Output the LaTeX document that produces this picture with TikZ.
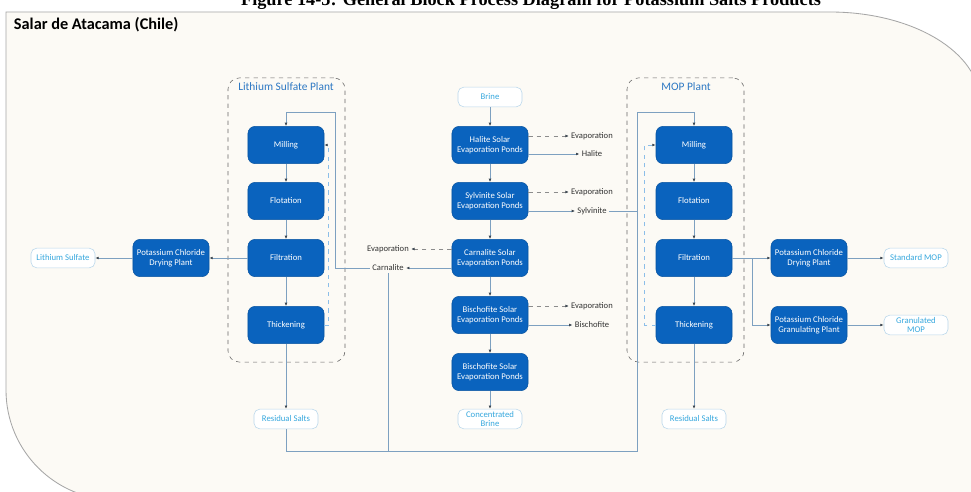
\documentclass[tikz,border=0pt]{standalone}
\usepackage{fontspec}
\setmainfont{Carlito}
\newfontfamily\capfont{Liberation Serif}
\usetikzlibrary{arrows.meta,positioning,calc}

\definecolor{pondblue}{RGB}{10,99,190}
\definecolor{prodtext}{RGB}{55,168,222}
\definecolor{prodline}{RGB}{185,215,235}
\definecolor{flowline}{RGB}{125,160,192}
\definecolor{recline}{RGB}{140,190,232}
\definecolor{tipgray}{RGB}{60,70,80}
\definecolor{paper}{RGB}{252,250,245}
\definecolor{plantlbl}{RGB}{45,120,195}

\begin{document}
\begin{tikzpicture}[x=0.025cm, y=-0.025cm,
    unit/.style={draw=pondblue!85!black, fill=pondblue, rounded corners=5pt, minimum width=1.9cm, minimum height=0.93cm, align=center, text=white, font=\fontsize{6.2}{7.4}\selectfont, inner sep=1pt},
    prod/.style={draw=prodline, fill=white, rounded corners=4pt, minimum width=1.6cm, minimum height=0.49cm, align=center, text=prodtext, font=\fontsize{6.2}{6.6}\selectfont, inner sep=1pt},
    plant/.style={draw=black!60, dashed, rounded corners=8pt, minimum width=2.925cm, minimum height=7.1cm},
    plantname/.style={text=plantlbl, font=\fontsize{8.1}{9}\selectfont},
    stream/.style={font=\fontsize{6.1}{7}\selectfont, text=black!80, inner sep=1.5pt},
    flow/.style={draw=flowline, line width=0.5pt},
    arr/.style={flow, -{Latex[length=2.4pt,width=2pt,color=tipgray]}},
    evap/.style={draw=black!45, dashed, line width=0.5pt, -{Latex[length=2.4pt,width=2pt,color=tipgray]}},
    rec/.style={draw=recline, dashed, line width=0.5pt, -{Latex[length=2.4pt,width=2pt,color=tipgray]}}
]
% page and salar outline
\clip (0,0) rectangle (971,492);
\fill[white] (0,0) rectangle (971,492);
\draw[black!35, fill=paper, line width=0.6pt] (6,12) -- (830,12) .. controls (912.8,12) and (980,52.3) .. (980,102)
    -- (980,500) -- (116,500) .. controls (55.2,500) and (6,450.8) .. (6,390) -- cycle;
\node[anchor=base, font=\capfont\bfseries\fontsize{13}{15}\selectfont] (fig) at (531,5.5) {Figure 14-5: General Block Process Diagram for Potassium Salts Products};
\node[anchor=base west, font=\bfseries\fontsize{11.6}{13}\selectfont] (salar) at (9,29.5) {Salar de Atacama (Chile)};

% lithium sulfate plant
\node[plant] (lsp) at (286.5,220) {};
\node[plantname] (lspname) at (286,87) {Lithium Sulfate Plant};
\node[unit] (lmill) at (286,145) {Milling};
\node[unit] (lflot) at (286,201) {Flotation};
\node[unit] (lfilt) at (286,258) {Filtration};
\node[unit] (lthick) at (286,325) {Thickening};
\node[unit] (ldry) at (171,258) {Potassium Chloride\\Drying Plant};
\node[prod] (lis) at (63,258) {Lithium Sulfate};
\node[prod] (lres) at (286,419) {Residual Salts};

% evaporation ponds
\node[prod] (brine) at (490,97) {Brine};
\node[unit] (halite) at (490,145) {Halite Solar\\Evaporation Ponds};
\node[unit] (sylvp) at (490,201) {Sylvinite Solar\\Evaporation Ponds};
\node[unit] (carnp) at (490,258) {Carnalite Solar\\Evaporation Ponds};
\node[unit] (bisch) at (490,315) {Bischofite Solar\\Evaporation Ponds};
\node[unit] (bischb) at (490,372) {Bischofite Solar\\Evaporation Ponds};
\node[prod] (conc) at (490,419) {Concentrated\\Brine};

\node[stream] (hevap) at (592,136) {Evaporation};
\node[stream] (hal) at (592,154) {Halite};
\node[stream] (sevap) at (592,192) {Evaporation};
\node[stream] (sylv) at (592,211) {Sylvinite};
\node[stream] (cevap) at (388,249) {Evaporation};
\node[stream] (carn) at (388,268) {Carnalite};
\node[stream] (bevap) at (592,306) {Evaporation};
\node[stream] (bis) at (592,325) {Bischofite};

% MOP plant
\node[plant] (mop) at (685.5,220) {};
\node[plantname] (mopname) at (686,87) {MOP Plant};
\node[unit] (mmill) at (694,145) {Milling};
\node[unit] (mflot) at (694,201) {Flotation};
\node[unit] (mfilt) at (694,258) {Filtration};
\node[unit] (mthick) at (694,325) {Thickening};
\node[unit] (mdry) at (809,258) {Potassium Chloride\\Drying Plant};
\node[unit] (mgran) at (809,325) {Potassium Chloride\\Granulating Plant};
\node[prod] (stdmop) at (916,258) {Standard MOP};
\node[prod] (granmop) at (916,325) {Granulated\\MOP};
\node[prod] (mres) at (694,419) {Residual Salts};

\coordinate (ltop) at (286,112);
\coordinate (lret) at (335,268);
\coordinate (bl) at (286,451);
\coordinate (br) at (637,451);
\coordinate (mtop) at (694,112);
\coordinate (msplit) at (752,258);

% pond train
\draw[arr] (brine) -- (halite);
\draw[arr] (halite) -- (sylvp);
\draw[arr] (sylvp) -- (carnp);
\draw[arr] (carnp) -- (bisch);
\draw[arr] (bisch) -- (bischb);
\draw[arr] (bischb) -- (conc);
\draw[evap] (hevap.west -| halite.east) -- (hevap);
\draw[arr] (hal.west -| halite.east) -- (hal);
\draw[evap] (sevap.west -| sylvp.east) -- (sevap);
\draw[arr] (sylv.west -| sylvp.east) -- (sylv);
\draw[evap] (cevap.east -| carnp.west) -- (cevap);
\draw[arr] (carn.east -| carnp.west) -- (carn);
\draw[evap] (bevap.west -| bisch.east) -- (bevap);
\draw[arr] (bis.west -| bisch.east) -- (bis);

% lithium sulfate circuit
\draw[arr] (lmill) -- (lflot);
\draw[arr] (lflot) -- (lfilt);
\draw[arr] (lfilt) -- (lthick);
\draw[arr] (lfilt) -- (ldry);
\draw[arr] (ldry) -- (lis);
\draw[arr] (lthick) -- (lres);
\draw[rec] (lthick.east) -- ++(4.5,0) |- (lmill.east);
\draw[arr] (carn.west) -- (lret) |- (ltop) -- (lmill.north);

% salts to the MOP plant
\draw[flow] (carn.south) -- (carn.south |- bl);
\draw[flow] (sylv.east) -- (sylv.east -| br);
\draw[arr] (lres) -- (bl) -- (br) |- (mtop) -- (mmill.north);

% MOP circuit
\draw[arr] (mmill) -- (mflot);
\draw[arr] (mflot) -- (mfilt);
\draw[arr] (mfilt) -- (mthick);
\draw[arr] (mfilt) -- (mdry);
\draw[arr] (msplit) |- (mgran);
\draw[arr] (mdry) -- (stdmop);
\draw[arr] (mgran) -- (granmop);
\draw[arr] (mthick) -- (mres);
\draw[rec] (mthick.west) -- ++(-11,0) |- (mmill.west);
\end{tikzpicture}
\end{document}
